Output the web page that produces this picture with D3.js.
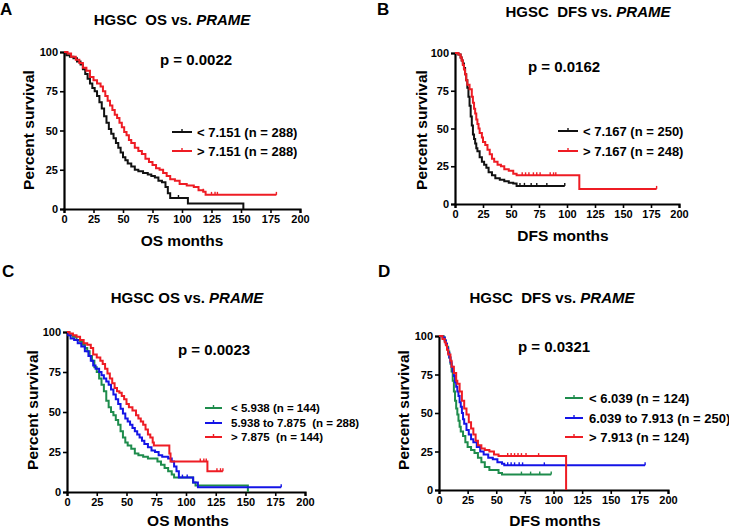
<!DOCTYPE html>
<html>
<head>
<meta charset="utf-8">
<script src="https://cdn.jsdelivr.net/npm/d3@7"></script>
<style>
  body { margin: 0; background: #fff; }
  svg text { font-family: "Liberation Sans", Arial, sans-serif; font-weight: bold; }
</style>
</head>
<body>
<svg id="fig"></svg>
<script>
const WIDTH = 729;
const HEIGHT = 530;

const X_TICKS = [0, 25, 50, 75, 100, 125, 150, 175, 200];
const Y_TICKS = [0, 25, 50, 75, 100];

// [months, percent survival] step points
const A_LOW = [[0,100],[2,98],[5,97],[8,96],[11,94],[14,92],[16,89],[18,86],[20,83],[22,80],[24,77],[26,75],[28,72],[30,68],[32,64],[34,59],[36,55],[38,51],[40,48],[42,45],[44,42],[46,39],[48,36],[50,33],[52,31],[54,29],[57,27],[60,25],[63,24],[67,23],[71,22],[74,21],[77,20],[80,18],[83,17],[86,14],[88,10],[90,7],[105,3.5],[152,3.5],[152,0]];
const A_HIGH = [[0,100],[3,99],[6,97],[10,95],[13,93],[16,90],[19,88],[22,84],[25,82],[28,80],[31,78],[33,75],[35,72],[37,69],[39,66],[41,63],[43,60],[45,58],[47,55],[49,52],[51,49],[53,47],[55,44],[57,42],[60,39],[63,37],[66,35],[69,32],[72,30],[75,28],[78,26],[81,25],[84,23],[87,21],[90,19],[94,18],[98,16],[104,15],[110,14],[114,12],[118,11],[120,9],[180,9]];
const A_LOW_CENS = [97];
const A_HIGH_CENS = [118, 125, 128, 130, 180];

const B_LOW = [[0,100],[3,99],[5,97],[6,95],[7,93],[8,90],[9,86],[10,82],[11,77],[12,71],[13,65],[14,58],[15,52],[16,46],[17,43],[18,40],[19,37],[20,35],[22,31],[24,28],[26,26],[28,24],[30,21],[33,19],[36,17],[40,16],[44,15],[48,14],[52,13.5],[55,12],[98,12]];
const B_HIGH = [[0,100],[3,99],[5,97],[6,95],[7,92],[8,89],[9,86],[10,82],[11,79],[13,76],[15,71],[16,67],[17,63],[18,60],[19,56],[20,53],[21,50],[22,47],[24,44],[25,41],[27,39],[29,36],[31,33],[33,30],[35,28],[38,26],[41,25],[44,23],[48,22],[52,20],[55,19],[111,19],[111,10],[180,10]];
const B_LOW_CENS = [58, 62, 68, 73, 82, 98];
const B_HIGH_CENS = [60, 63, 66, 70, 73, 76, 85, 88, 90, 180];

const C_LOW = [[0,100],[2,98],[5,97],[8,95],[11,94],[13,92],[15,90],[17,88],[19,85],[21,82],[23,78],[25,75],[27,71],[29,67],[31,63],[33,57],[35,53],[37,50],[39,48],[41,45],[43,42],[45,38],[47,34],[49,31],[51,29],[54,27],[57,24],[60,23],[64,22],[68,21],[76,19],[79,17],[82,15],[85,13],[88,11],[90,9],[104,9],[106,6],[108,4],[152,4],[152,0]];
const C_MID = [[0,100],[1,98],[3,96],[6,95],[9,93],[12,91],[15,88],[18,85],[20,82],[22,79],[24,77],[27,75],[29,73],[31,71],[33,69],[35,67],[37,64],[39,61],[41,58],[43,55],[45,52],[47,49],[49,46],[51,44],[53,42],[55,40],[57,38],[59,36],[61,34],[63,32],[65,30],[68,28],[71,26],[74,25],[77,23],[80,22],[85,21],[88,19],[90,16],[92,13],[94,9],[104,9],[106,6],[110,3],[180,3]];
const C_HIGH = [[0,100],[2,99],[5,98],[8,97],[11,95],[14,93],[17,92],[20,90],[22,86],[25,84],[28,82],[30,80],[32,77],[34,74],[36,71],[38,68],[40,65],[42,63],[44,62],[46,60],[48,58],[50,55],[52,53],[55,51],[58,48],[60,46],[62,44],[64,42],[66,39],[68,36],[70,34],[72,31],[73,29],[85,29],[86,24],[87,19],[118,19],[118,13],[131,13]];
const C_LOW_CENS = [];
const C_MID_CENS = [97, 101, 180];
const C_HIGH_CENS = [112, 115, 117, 126, 129, 131];

const D_LOW = [[0,100],[4,99],[5,97],[6,95],[7,93],[8,90],[9,86],[10,82],[11,77],[12,71],[13,64],[14,58],[15,53],[16,49],[17,45],[18,41],[19,38],[21,35],[23,31],[25,28],[28,26],[31,24],[34,21],[37,18],[40,15],[44,13],[50,13],[52,11],[55,10],[98,10]];
const D_MID = [[0,100],[3,99],[5,97],[6,95],[7,92],[8,89],[9,86],[10,83],[11,80],[12,77],[13,74],[14,70],[15,67],[16,64],[17,61],[18,57],[19,54],[20,50],[21,46],[22,43],[24,39],[26,36],[28,33],[30,31],[33,28],[36,25],[39,23],[43,21],[47,20],[51,18],[55,17],[57,16],[180,16]];
const D_HIGH = [[0,100],[3,98],[5,96],[6,94],[7,91],[8,88],[10,84],[11,80],[13,76],[15,71],[16,69],[18,64],[20,58],[22,53],[24,49],[26,44],[28,40],[30,36],[32,32],[34,29],[37,27],[40,26],[44,25],[48,23],[52,22],[111,22],[111,0]];
const D_LOW_CENS = [72, 80, 88, 98];
const D_MID_CENS = [60, 63, 66, 70, 73, 92, 180];
const D_HIGH_CENS = [60, 63, 66, 69, 72, 76, 87];

const BLACK = "#111111", RED = "#ee1c24", BLUE = "#1414e6", GREEN = "#1e8c4c";

const svg = d3.select("#fig").attr("width", WIDTH).attr("height", HEIGHT);

function survAt(curve, t) {
  let v = curve[0][1];
  for (const p of curve) { if (p[0] <= t) v = p[1]; }
  return v;
}

function panel(cfg) {
  const g = svg.append("g");
  const x = d3.scaleLinear().domain([0, 200]).range([cfg.x0, cfg.x1]);
  const y = d3.scaleLinear().domain([0, 100]).range([cfg.yb, cfg.yt]);

  g.append("text").attr("x", cfg.letter[1]).attr("y", cfg.letter[2])
    .attr("font-size", 17).text(cfg.letter[0]);

  const title = g.append("text").attr("x", cfg.title[1]).attr("y", cfg.title[2])
    .attr("text-anchor", "middle").attr("font-size", 15);
  title.append("tspan").attr("xml:space", "preserve").text(cfg.title[0]);
  title.append("tspan").attr("font-style", "italic").text("PRAME");

  const xa = g.append("g").attr("transform", `translate(0,${cfg.yb})`)
    .call(d3.axisBottom(x).tickValues(X_TICKS).tickSize(4).tickPadding(2).tickFormat(d3.format("d")));
  const ya = g.append("g").attr("transform", `translate(${cfg.x0},0)`)
    .call(d3.axisLeft(y).tickValues(Y_TICKS).tickSize(4).tickPadding(2).tickFormat(d3.format("d")));
  [xa, ya].forEach(a => {
    a.select(".domain").attr("stroke", "#000").attr("stroke-width", 2.2);
    a.selectAll(".tick line").attr("stroke", "#000").attr("stroke-width", 1.6);
    a.selectAll("text").attr("font-size", 11).attr("fill", "#000")
      .style("font-family", "'Liberation Sans', Arial, sans-serif").style("font-weight", "bold");
  });

  g.append("text").attr("x", cfg.xlab[1]).attr("y", cfg.xlab[2])
    .attr("text-anchor", "middle").attr("font-size", 15.5).text(cfg.xlab[0]);
  g.append("text").attr("transform", `translate(${cfg.ylab[0]},${cfg.ylab[1]}) rotate(-90)`)
    .attr("text-anchor", "middle").attr("dominant-baseline", "central")
    .attr("font-size", 15.5).text("Percent survival");

  g.append("text").attr("x", cfg.p[1]).attr("y", cfg.p[2])
    .attr("font-size", 15).text(cfg.p[0]);

  const line = d3.line().x(d => x(d[0])).y(d => y(d[1])).curve(d3.curveStepAfter);

  cfg.series.forEach((s, i) => {
    g.append("path").datum(s.data).attr("d", line)
      .attr("fill", "none").attr("stroke", s.color).attr("stroke-width", 2);
    g.selectAll(null).data(s.cens).enter().append("line")
      .attr("x1", d => x(d)).attr("x2", d => x(d))
      .attr("y1", d => y(survAt(s.data, d)) - 3).attr("y2", d => y(survAt(s.data, d)))
      .attr("stroke", s.color).attr("stroke-width", 1.4);

    const ly = cfg.legend.ys[i];
    g.append("line").attr("x1", cfg.legend.x0).attr("x2", cfg.legend.x1)
      .attr("y1", ly).attr("y2", ly).attr("stroke", s.color).attr("stroke-width", 2);
    const mx = (cfg.legend.x0 + cfg.legend.x1) / 2;
    g.append("line").attr("x1", mx).attr("x2", mx).attr("y1", ly - 3).attr("y2", ly)
      .attr("stroke", s.color).attr("stroke-width", 1.4);
    g.append("text").attr("x", cfg.legend.tx).attr("y", ly)
      .attr("dominant-baseline", "central").attr("font-size", cfg.legend.fs)
      .attr("xml:space", "preserve").text(s.label);
  });
}

panel({
  x0: 64, x1: 300, yt: 52, yb: 209,
  letter: ["A", 0, 15], title: ["HGSC  OS vs. ", 172, 25],
  xlab: ["OS months", 182, 246], ylab: [28, 130], p: ["p = 0.0022", 160, 65],
  legend: { x0: 172, x1: 192, tx: 197, ys: [132, 151], fs: 13 },
  series: [
    { data: A_LOW, cens: A_LOW_CENS, color: BLACK, label: "< 7.151 (n = 288)" },
    { data: A_HIGH, cens: A_HIGH_CENS, color: RED, label: "> 7.151 (n = 288)" }
  ]
});

panel({
  x0: 455, x1: 679, yt: 53, yb: 204,
  letter: ["B", 377, 15], title: ["HGSC  DFS vs. ", 588, 17],
  xlab: ["DFS months", 563, 241], ylab: [421, 130], p: ["p = 0.0162", 528, 72],
  legend: { x0: 558, x1: 578, tx: 583, ys: [131, 151], fs: 13 },
  series: [
    { data: B_LOW, cens: B_LOW_CENS, color: BLACK, label: "< 7.167 (n = 250)" },
    { data: B_HIGH, cens: B_HIGH_CENS, color: RED, label: "> 7.167 (n = 248)" }
  ]
});

panel({
  x0: 67, x1: 305, yt: 332, yb: 492,
  letter: ["C", 2, 277], title: ["HGSC OS vs. ", 187, 303],
  xlab: ["OS Months", 188, 526], ylab: [32, 410], p: ["p = 0.0023", 178, 355],
  legend: { x0: 205, x1: 222, tx: 231, ys: [408, 423, 437], fs: 11.5 },
  series: [
    { data: C_LOW, cens: C_LOW_CENS, color: GREEN, label: "< 5.938 (n = 144)" },
    { data: C_MID, cens: C_MID_CENS, color: BLUE, label: "5.938 to 7.875  (n = 288)" },
    { data: C_HIGH, cens: C_HIGH_CENS, color: RED, label: "> 7.875  (n = 144)" }
  ]
});

panel({
  x0: 439, x1: 668, yt: 336, yb: 490,
  letter: ["D", 378, 277], title: ["HGSC  DFS vs. ", 552, 303],
  xlab: ["DFS months", 555, 526], ylab: [403, 410], p: ["p = 0.0321", 518, 352],
  legend: { x0: 565, x1: 583, tx: 589, ys: [398, 418, 437], fs: 13 },
  series: [
    { data: D_LOW, cens: D_LOW_CENS, color: GREEN, label: "< 6.039 (n = 124)" },
    { data: D_MID, cens: D_MID_CENS, color: BLUE, label: "6.039 to 7.913 (n = 250)" },
    { data: D_HIGH, cens: D_HIGH_CENS, color: RED, label: "> 7.913 (n = 124)" }
  ]
});
</script>
</body>
</html>
